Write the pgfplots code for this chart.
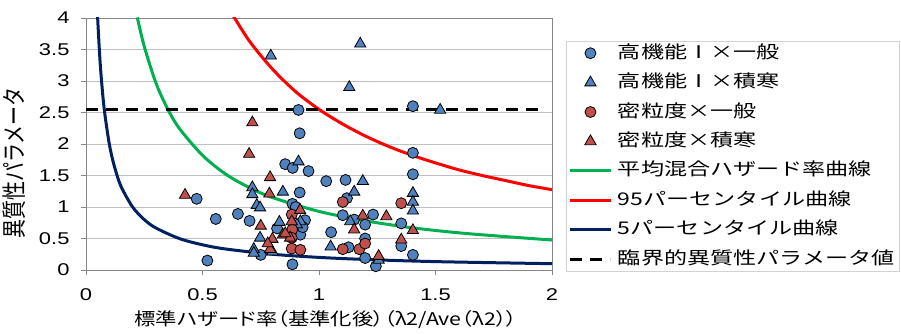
\documentclass[border=0pt]{standalone}
\usepackage{pgfplots}
\pgfplotsset{compat=1.18}
\usepackage{fontspec}
\setmainfont{Noto Sans CJK JP}
\newfontfamily\jpleg{Noto Sans CJK JP}[FakeStretch=1.32]
\newfontfamily\jplab{Noto Sans CJK JP}[FakeStretch=1.22,RawFeature=+palt]
\newfontfamily\jpy{Noto Sans CJK JP}
\newfontfamily\tickfont{Liberation Sans}[FakeStretch=1.29]
\definecolor{mblue}{HTML}{4F81BD}
\definecolor{mred}{HTML}{C0504D}
\definecolor{cgreen}{HTML}{00B050}
\definecolor{cred}{HTML}{FF0000}
\definecolor{cnavy}{HTML}{002060}
\definecolor{axgray}{HTML}{868686}
\definecolor{gridgray}{HTML}{BFBFBF}
\begin{document}
\begin{tikzpicture}
\begin{axis}[
  at={(0pt,0pt)}, anchor=south west,
  width=466pt, height=252pt, scale only axis,
  xmin=0, xmax=2, ymin=0, ymax=4,
  xtick={0,0.5,1,1.5,2}, ytick={0,0.5,1,1.5,2,2.5,3,3.5,4},
  xtick pos=left, ytick pos=left,
  ymajorgrids, grid style={gridgray, line width=0.9pt},
  axis line style={axgray, line width=0.9pt},
  tick style={axgray, line width=0.9pt}, tick align=outside, major tick length=5pt,
  ticklabel style={font=\tickfont\fontsize{17}{20}\selectfont},
  /pgf/number format/assume math mode=true,
  x tick label style={yshift=-10pt},
  y tick label style={xshift=-8pt},
  legend style={at={(axis description cs:1.0295,0.9087)}, anchor=north west,
    draw=gray!35, fill=white, font=\jpleg\fontsize{17.5}{21}\selectfont,
    nodes={text height=13pt, text depth=3pt, inner sep=2pt}, row sep=9.4pt, column sep=4pt},
  legend cell align=left,
  legend image code/.code={\draw[mark repeat=2,mark phase=2,#1] plot coordinates {(0pt,0pt) (20pt,0pt) (40pt,0pt)};},
]
\addplot[only marks, mark=*, mark size=5.5pt, mark options={draw=black, fill=mblue, line width=0.8pt}] coordinates {
(0.475,1.13) (0.521,0.15) (0.557,0.81) (0.652,0.89) (0.702,0.78) (0.912,2.54) (0.917,2.17)
(0.855,1.68) (0.887,1.62) (0.955,1.57) (0.917,1.23) (0.886,1.05) (0.82,0.66) (0.94,0.79)
(0.92,0.56) (0.75,0.24) (0.886,0.09) (1.031,1.41) (1.114,1.43) (1.12,1.14) (1.102,0.87)
(1.151,0.80) (1.232,0.88) (1.198,0.72) (1.052,0.60) (1.127,0.36) (1.198,0.50) (1.198,0.19)
(1.244,0.06) (1.403,2.60) (1.403,1.86) (1.403,1.52) (1.353,0.74) (1.353,0.38) (1.403,0.24)
(0.93,0.68) (0.90,1.00)
};
\addlegendentry{高機能Ⅰ×一般}
\addplot[only marks, mark=triangle*, mark size=6.5pt, mark options={draw=black, fill=mblue, line width=0.8pt}] coordinates {
(0.793,3.40) (1.177,3.59) (1.13,2.90) (1.52,2.54) (0.912,1.72) (0.714,1.31) (0.714,1.20)
(0.845,1.24) (0.733,1.03) (0.747,0.99) (0.83,0.76) (0.92,0.77) (0.747,0.51) (0.72,0.33)
(0.72,0.27) (0.80,0.29) (1.050,0.37) (1.188,1.41) (1.151,1.24) (1.134,0.77) (1.403,1.22)
(1.403,1.08) (1.403,0.94) (1.256,0.16) (0.905,0.72)
};
\addlegendentry{高機能Ⅰ×積寒}
\addplot[only marks, mark=*, mark size=5.5pt, mark options={draw=black, fill=mred, line width=0.8pt}] coordinates {
(0.883,0.88) (0.885,0.64) (0.883,0.51) (0.883,0.34) (0.92,0.32) (1.102,1.08) (1.102,0.33)
(1.173,0.33) (1.198,0.42) (1.353,1.06)
};
\addlegendentry{密粒度×一般}
\addplot[only marks, mark=triangle*, mark size=6.5pt, mark options={draw=black, fill=mred, line width=0.8pt}] coordinates {
(0.425,1.19) (0.714,2.34) (0.70,1.84) (0.79,1.47) (0.787,1.21) (0.919,0.95) (0.75,0.70)
(0.883,0.77) (0.845,0.56) (0.80,0.49) (0.876,0.51) (0.79,0.33) (0.855,0.58) (1.188,0.86)
(1.289,0.85) (1.151,0.64) (1.256,0.22) (1.403,0.63) (1.353,0.48) (0.78,0.42)
};
\addlegendentry{密粒度×積寒}
\addplot[cgreen, line width=3pt, smooth, no marks] coordinates {
(0.22,4.01) (0.25,3.55) (0.3,2.97) (0.35,2.56) (0.4,2.25) (0.5,1.82) (0.6,1.52) (0.7,1.31)
(0.8,1.15) (1.0,0.93) (1.2,0.78) (1.4,0.67) (1.6,0.59) (1.8,0.53) (2.0,0.476)
};
\addlegendentry{平均混合ハザード率曲線}
\addplot[cred, line width=3pt, smooth, no marks] coordinates {
(0.62,4.11) (0.7,3.64) (0.8,3.19) (0.9,2.83) (1.0,2.55) (1.1,2.32) (1.2,2.125) (1.3,1.96)
(1.4,1.82) (1.5,1.70) (1.6,1.59) (1.7,1.50) (1.8,1.42) (1.9,1.34) (2.0,1.275)
};
\addlegendentry{95パーセンタイル曲線}
\addplot[cnavy, line width=3pt, smooth, no marks] coordinates {
(0.045,4.44) (0.05,4.0) (0.06,3.33) (0.07,2.86) (0.08,2.5) (0.1,2.0) (0.12,1.67) (0.15,1.33)
(0.2,1.0) (0.25,0.8) (0.3,0.667) (0.4,0.5) (0.5,0.4) (0.6,0.333) (0.8,0.25) (1.0,0.2)
(1.2,0.167) (1.5,0.133) (2.0,0.1)
};
\addlegendentry{5パーセンタイル曲線}
\addplot[black, line width=3pt, dash pattern=on 12pt off 8pt, no marks] coordinates {(0,2.54) (1.96,2.54)};
\addlegendentry{臨界的異質性パラメータ値}
\end{axis}
\node[anchor=center, font=\jplab\fontsize{17.5}{21}\selectfont] at (240pt,-50pt) {標準ハザード率（基準化後）（λ2/Ave（λ2））};
\node[anchor=center, xscale=1.3, rotate=90, font=\jpy\fontsize{19}{22}\selectfont] at (-72pt,107pt) {異質性パラメータ};
\pgfresetboundingbox
\path[use as bounding box] (-86pt,-64pt) rectangle (815pt,270pt);
\end{tikzpicture}
\end{document}
